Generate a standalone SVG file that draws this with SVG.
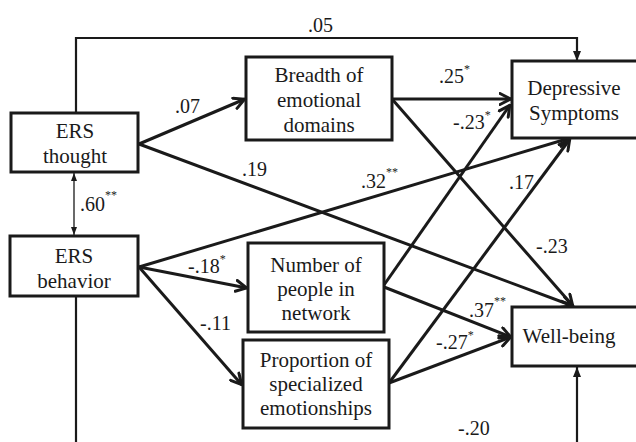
<svg xmlns="http://www.w3.org/2000/svg" width="636" height="442" viewBox="0 0 636 442">
<style>
.box{fill:#fff;stroke:#1a1a1a;stroke-width:3}
text{font-family:"Times New Roman","Liberation Serif","DejaVu Serif",serif;fill:#1a1a1a}
.t{font-size:21px;text-anchor:middle}
.l{font-size:20px}
.sup{font-size:12px}
.a{fill:none;stroke:#1a1a1a;stroke-width:3;marker-end:url(#open)}
.thin{fill:none;stroke:#1a1a1a;stroke-width:2.2}
</style>
<defs>
<marker id="open" viewBox="0 0 14 14" refX="12.5" refY="7" markerWidth="14" markerHeight="14" markerUnits="userSpaceOnUse" orient="auto">
<path d="M1.5,1.5 L12,7 L1.5,12.5" fill="none" stroke="#1a1a1a" stroke-width="3" stroke-linecap="round"/>
</marker>
<marker id="solid" viewBox="0 0 10 10" refX="10" refY="5" markerWidth="10" markerHeight="10" markerUnits="userSpaceOnUse" orient="auto">
<path d="M0,1 L10,5 L0,9 Z" fill="#1a1a1a"/>
</marker>
<marker id="small" viewBox="0 0 8 8" refX="8" refY="4" markerWidth="8" markerHeight="8" markerUnits="userSpaceOnUse" orient="auto-start-reverse">
<path d="M0,1 L8,4 L0,7 Z" fill="#1a1a1a"/>
</marker>
</defs>
<rect width="636" height="442" fill="#fff"/>
<g id="connectors">
<path class="thin" d="M76,113 V38 H577 V61" marker-end="url(#solid)"/>
<line x1="74" y1="173" x2="74" y2="235" stroke="#1a1a1a" stroke-width="1.3" marker-start="url(#small)" marker-end="url(#small)"/>
<line class="a" x1="139" y1="144" x2="245" y2="99"/>
<line class="a" x1="139" y1="144" x2="573" y2="306"/>
<line class="a" x1="139" y1="267" x2="570" y2="138"/>
<line class="a" x1="139" y1="267" x2="247" y2="288"/>
<line class="a" x1="139" y1="267" x2="242" y2="385"/>
<line class="a" x1="392" y1="99" x2="511" y2="99"/>
<line class="a" x1="392" y1="99" x2="573" y2="306"/>
<line class="a" x1="384" y1="285" x2="510" y2="105"/>
<line class="a" x1="384" y1="287" x2="511" y2="337"/>
<line class="a" x1="389" y1="383" x2="570" y2="139"/>
<line class="a" x1="389" y1="383" x2="511" y2="337"/>
<path class="thin" d="M76,296 V442"/>
<path class="thin" d="M577,442 V367" marker-end="url(#solid)"/>
</g>
<g id="ers-thought">
<rect class="box" x="11" y="113" width="127" height="59"/>
<text class="t" x="75" y="138">ERS</text>
<text class="t" x="75" y="163">thought</text>
</g>
<g id="ers-behavior">
<rect class="box" x="10" y="236" width="128" height="60"/>
<text class="t" x="74" y="263">ERS</text>
<text class="t" x="74" y="288">behavior</text>
</g>
<g id="breadth">
<rect class="box" x="246" y="57" width="146" height="83"/>
<text class="t" x="319" y="82">Breadth of</text>
<text class="t" x="319" y="107">emotional</text>
<text class="t" x="319" y="132">domains</text>
</g>
<g id="number">
<rect class="box" x="248" y="243" width="136" height="89"/>
<text class="t" x="316" y="272">Number of</text>
<text class="t" x="316" y="296">people in</text>
<text class="t" x="316" y="320">network</text>
</g>
<g id="proportion">
<rect class="box" x="243" y="340" width="146" height="88"/>
<text class="t" x="316" y="367">Proportion of</text>
<text class="t" x="316" y="391">specialized</text>
<text class="t" x="316" y="415">emotionships</text>
</g>
<g id="depressive">
<rect class="box" x="512" y="61" width="130" height="77"/>
<text class="t" x="574" y="95">Depressive</text>
<text class="t" x="574" y="120">Symptoms</text>
</g>
<g id="wellbeing">
<rect class="box" x="512" y="307" width="130" height="59"/>
<text class="t" x="569" y="343">Well-being</text>
</g>
<g id="labels">
<text class="l" x="308" y="32">.05</text>
<text class="l" x="175" y="113">.07</text>
<text class="l" x="242" y="176">.19</text>
<text class="l" x="80" y="211">.60<tspan class="sup" dy="-12">**</tspan></text>
<text class="l" x="439" y="83">.25<tspan class="sup" dy="-10">*</tspan></text>
<text class="l" x="453" y="129">-.23<tspan class="sup" dy="-10">*</tspan></text>
<text class="l" x="361" y="188">.32<tspan class="sup" dy="-12">**</tspan></text>
<text class="l" x="509" y="189">.17</text>
<text class="l" x="536" y="253">-.23</text>
<text class="l" x="469" y="317">.37<tspan class="sup" dy="-12">**</tspan></text>
<text class="l" x="436" y="349">-.27<tspan class="sup" dy="-10">*</tspan></text>
<text class="l" x="188" y="273">-.18<tspan class="sup" dy="-10">*</tspan></text>
<text class="l" x="200" y="330">-.11</text>
<text class="l" x="458" y="435">-.20</text>
</g>
</svg>
